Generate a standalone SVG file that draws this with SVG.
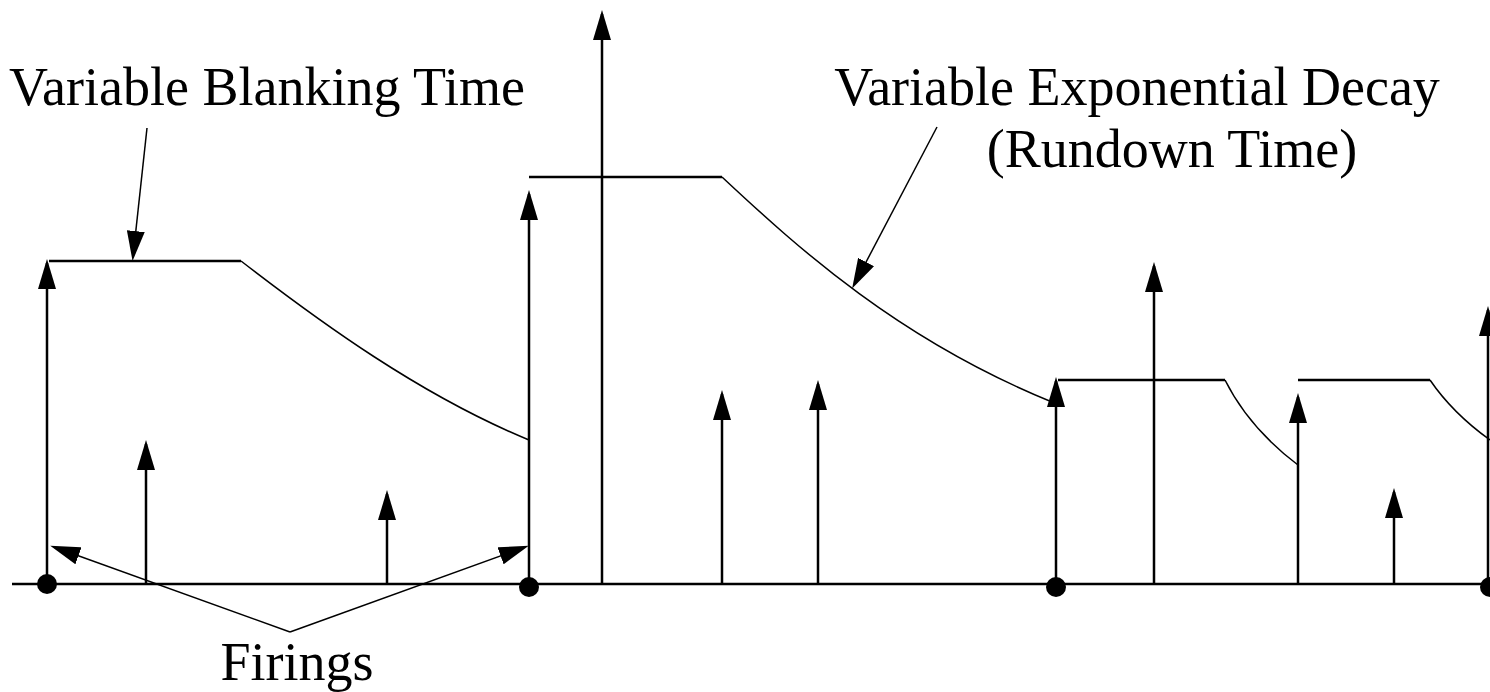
<svg xmlns="http://www.w3.org/2000/svg" width="1490" height="692" viewBox="0 0 1490 692">
<style>
.ax{stroke:#000;stroke-width:2.5;fill:none}
.cv{stroke:#000;stroke-width:1.5;fill:none}
.ar{stroke:#000;stroke-width:2.5;fill:none;marker-end:url(#ah)}
.ld{stroke:#000;stroke-width:1.5;fill:none;marker-end:url(#ah)}
.t{font-family:"Liberation Serif","Times New Roman",serif;font-size:54px;fill:#000}
</style>
<defs>
<marker id="ah" viewBox="0 0 30 18" markerWidth="30" markerHeight="18" refX="26" refY="9" orient="auto" markerUnits="userSpaceOnUse">
<path d="M0,0 L30,9 L0,18 z" fill="#000"/>
</marker>
</defs>
<rect width="1490" height="692" fill="#fff"/>
<g id="axis">
<line class="ax" x1="12" y1="584" x2="1490" y2="584"/>
<circle cx="47" cy="584" r="10" fill="#000"/>
<circle cx="529" cy="587" r="10" fill="#000"/>
<circle cx="1056" cy="587" r="10" fill="#000"/>
<circle cx="1490" cy="587" r="10" fill="#000"/>
</g>
<g id="envelope">
<polyline class="ax" points="49,261 241,261"/>
<path class="cv" d="M241,261 C320,322 420,395 529,440"/>
<polyline class="ax" points="529,177 722,177"/>
<path class="cv" d="M722,177 C800,250 900,340 1052,402"/>
<polyline class="ax" points="1058,380 1225,380"/>
<path class="cv" d="M1225,380 C1240,410 1265,440 1298,465"/>
<polyline class="ax" points="1298,380 1430,380"/>
<path class="cv" d="M1430,380 C1445,402 1465,422 1490,440"/>
</g>
<g id="pulses">
<line class="ar" x1="47" y1="584" x2="47" y2="263"/>
<line class="ar" x1="146" y1="584" x2="146" y2="444"/>
<line class="ar" x1="387" y1="584" x2="387" y2="494"/>
<line class="ar" x1="529" y1="584" x2="529" y2="194"/>
<line class="ar" x1="602" y1="584" x2="602" y2="14"/>
<line class="ar" x1="722" y1="584" x2="722" y2="394"/>
<line class="ar" x1="818" y1="584" x2="818" y2="384"/>
<line class="ar" x1="1056" y1="584" x2="1056" y2="381"/>
<line class="ar" x1="1154" y1="584" x2="1154" y2="266"/>
<line class="ar" x1="1298" y1="584" x2="1298" y2="397"/>
<line class="ar" x1="1394" y1="584" x2="1394" y2="492"/>
<line class="ar" x1="1488" y1="584" x2="1488" y2="310"/>
</g>
<g id="connectors">
<line class="ld" x1="147" y1="128" x2="133" y2="257"/>
<line class="ld" x1="937" y1="127" x2="854" y2="285"/>
<line class="ld" x1="290" y1="632" x2="54" y2="547"/>
<line class="ld" x1="290" y1="632" x2="525" y2="547"/>
</g>
<g id="label-blanking"><text class="t" x="267" y="105" text-anchor="middle">Variable Blanking Time</text></g>
<g id="label-decay">
<text class="t" x="1137" y="105" text-anchor="middle">Variable Exponential Decay</text>
<text class="t" x="1172" y="167" text-anchor="middle">(Rundown Time)</text>
</g>
<g id="label-firings"><text class="t" x="297" y="680" text-anchor="middle">Firings</text></g>
</svg>
